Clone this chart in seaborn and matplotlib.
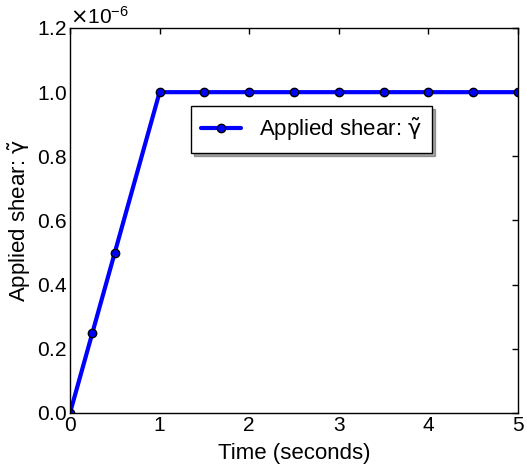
import matplotlib
matplotlib.use("Agg")
import matplotlib.pyplot as plt
import matplotlib.ticker as mticker
import seaborn as sns
import pandas as pd

time_s = [0, 0.25, 0.5, 1.0, 1.5, 2.0, 2.5, 3.0, 3.5, 4.0, 4.5, 5.0]
shear = [0, 0.25e-6, 0.5e-6, 1e-6, 1e-6, 1e-6, 1e-6, 1e-6, 1e-6, 1e-6, 1e-6, 1e-6]
series_label = "Applied shear: $\\tilde{\\mathrm{\\gamma}}$"
y_label = "Applied shear: $\\tilde{\\mathrm{\\gamma}}$"
x_label = "Time (seconds)"

df = pd.DataFrame({"t": time_s, "g": shear})

sns.set_theme(style="white")
plt.rcParams['font.family'] = ['Liberation Sans', 'DejaVu Sans']
plt.rcParams['mathtext.fontset'] = 'custom'
plt.rcParams['mathtext.rm'] = 'DejaVu Sans'
plt.rcParams['mathtext.it'] = 'DejaVu Sans'
plt.rcParams['text.color'] = 'black'
plt.rcParams['axes.labelcolor'] = 'black'

FS = 15
FS_L = 16

fig = plt.figure(figsize=(5.27, 4.76), dpi=100)
ax = fig.add_axes([70/527, 1 - 413/476, 448/527, 385/476])

sns.lineplot(data=df, x="t", y="g", ax=ax, color="blue", linewidth=3,
             marker="o", markersize=6, markeredgecolor="black",
             markeredgewidth=1, label=series_label)

ax.set_xlim(0, 5)
ax.set_ylim(0, 1.2e-6)
ax.set_xticks([0, 1, 2, 3, 4, 5])
ax.set_yticks([0, 0.2e-6, 0.4e-6, 0.6e-6, 0.8e-6, 1.0e-6, 1.2e-6])
fmt = mticker.ScalarFormatter(useMathText=True)
fmt.set_powerlimits((0, 0))
ax.yaxis.set_major_formatter(fmt)
ax.yaxis.get_offset_text().set_fontsize(FS)
ax.yaxis.get_offset_text().set_color('black')

ax.tick_params(direction='in', length=4, width=1, top=True, right=True,
               labelsize=FS, colors='black', pad=2)
for s in ax.spines.values():
    s.set_color('black')
    s.set_linewidth(1)

ax.set_xlabel(x_label, fontsize=FS_L, labelpad=6, color='black')
ax.set_ylabel(y_label, fontsize=FS_L, labelpad=3, color='black')

leg = ax.legend(loc='upper left', bbox_to_anchor=(0.246, 0.826), fontsize=FS_L,
                frameon=True, fancybox=False, shadow=True, framealpha=1,
                edgecolor='black', handlelength=1.8, borderpad=0.45,
                borderaxespad=0.5)
leg.get_frame().set_linewidth(1)
for t in leg.get_texts():
    t.set_color('black')

fig.savefig("out.png", dpi=100)
